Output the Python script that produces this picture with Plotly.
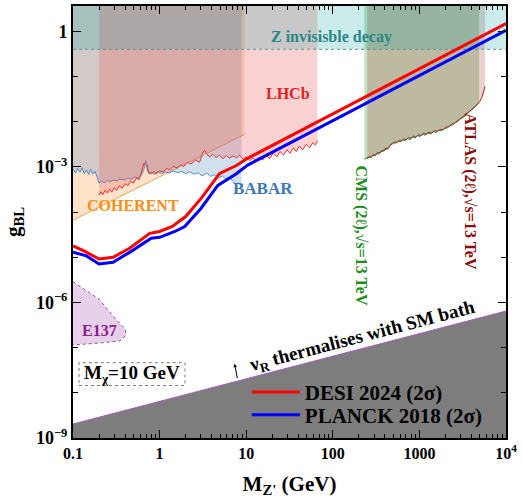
import numpy as np
import plotly.graph_objects as go

FONT = "Liberation Serif"

# ---------------- data ----------------
# DESI 2024 and PLANCK 2018 bounds (log10 g_BL)
desi_m = [0.1, 0.137, 0.2, 0.29, 0.45, 0.77, 1.0, 1.4, 2.0, 3.1, 4.9, 7.7, 10.4, 1e4]
desi_logg = [-4.75, -4.87, -5.04, -5.00, -4.80, -4.47, -4.43, -4.32, -4.10, -3.67, -3.15, -2.97, -2.81, 0.17]
planck_m = [0.1, 0.143, 0.2, 0.29, 0.47, 0.8, 1.0, 1.5, 1.95, 3.0, 4.7, 7.7, 10.4, 1e4]
planck_logg = [-4.89, -4.97, -5.15, -5.11, -4.87, -4.58, -4.56, -4.43, -4.32, -3.92, -3.41, -3.15, -2.96, 0.02]

# BABAR
babar_m = [0.1, 0.107, 0.113, 0.12, 0.127, 0.135, 0.143, 0.152, 0.16, 0.17, 0.18, 0.19, 0.2, 0.215,
           0.23, 0.25, 0.27, 0.29, 0.32, 0.35, 0.39, 0.43, 0.47, 0.52, 0.57, 0.62, 0.66, 0.69, 0.72,
           0.75, 0.8, 0.88, 0.95, 1.05, 1.15, 1.3, 1.45, 1.6, 1.8, 2.0, 2.2, 2.5, 2.8, 3.1, 3.5, 3.9,
           4.3, 4.8, 5.3, 5.9, 6.5, 7.0, 7.6, 8.2, 8.85]
babar_logg = [-3.05, -3.14, -3.03, -3.12, -3.02, -3.15, -3.07, -3.17, -3.05, -3.16, -3.10, -3.22, -3.36, -3.32,
              -3.35, -3.30, -3.33, -3.29, -3.31, -3.27, -3.29, -3.25, -3.27, -3.22, -3.25, -3.18, -3.05, -2.86, -2.95,
              -3.15, -3.12, -3.16, -3.10, -3.15, -3.11, -3.14, -3.09, -3.13, -3.10, -3.15, -3.11, -3.16, -3.13, -3.20, -3.14, -3.21,
              -3.17, -3.25, -3.20, -3.28, -3.24, -3.32, -3.38, -3.36, -3.42]

# LHCb
lhcb_m = [0.2, 0.21, 0.22, 0.235, 0.25, 0.265, 0.28, 0.3, 0.32, 0.34, 0.37, 0.4, 0.43, 0.46, 0.5, 0.54,
          0.58, 0.62, 0.66, 0.7, 0.74, 0.8, 0.86, 0.92, 1.0, 1.1, 1.2, 1.3, 1.45, 1.6, 1.75, 1.9, 2.1, 2.3,
          2.6, 2.9, 3.1, 3.3, 3.5, 3.8, 4.1, 4.5, 4.9, 5.4, 5.9, 6.4, 7.0, 7.7, 8.4, 9.2, 10, 11, 12, 13,
          14, 15.5, 17, 18.6, 20.5, 22.5, 24.5, 27, 29.5, 32, 35, 38, 41, 45, 49, 54, 59, 63, 66.5]
lhcb_logg = [-3.63, -3.55, -3.62, -3.52, -3.58, -3.49, -3.56, -3.46, -3.52, -3.42, -3.47, -3.37, -3.42, -3.32, -3.36, -3.25,
             -3.28, -3.10, -2.92, -2.95, -3.12, -3.15, -3.10, -3.16, -3.08, -3.12, -3.03, -3.07, -2.99, -3.03, -2.95, -2.99, -2.90, -2.94,
             -2.85, -2.90, -2.72, -2.63, -2.72, -2.78, -2.72, -2.80, -2.74, -2.82, -2.75, -2.81, -2.76, -2.80, -2.74, -2.83, -2.78, -2.86, -2.80, -2.88,
             -2.79, -2.85, -2.74, -2.82, -2.70, -2.78, -2.66, -2.74, -2.62, -2.70, -2.58, -2.66, -2.54, -2.62, -2.50, -2.58, -2.46, -2.52, -2.42]

# COHERENT (straight boundary)
coherent_m = [0.1, 9.6]
coherent_logg = [-4.18, -2.28]

# CMS (2l), 13 TeV
cms_m = [231, 245, 260, 275, 290, 305, 320, 340, 360, 380, 400, 420, 445, 470, 500, 530, 560, 600, 640, 680,
         730, 780, 830, 890, 950, 1010, 1080, 1160, 1250, 1350, 1450, 1560, 1680, 1810, 1950, 2100, 2250,
         2420, 2600, 2800, 3000, 3250, 3500, 3800, 4100, 4450, 4890]
cms_logg = [-2.83, -2.80, -2.78, -2.80, -2.74, -2.76, -2.70, -2.72, -2.65, -2.66, -2.60, -2.62, -2.55, -2.50, -2.46, -2.48,
            -2.43, -2.45, -2.40, -2.42, -2.37, -2.40, -2.34, -2.36, -2.31, -2.33, -2.28, -2.30, -2.25, -2.27, -2.22, -2.24,
            -2.19, -2.20, -2.15, -2.14, -2.09, -2.07, -2.02, -1.99, -1.93, -1.90, -1.84, -1.78, -1.72, -1.66, -1.58]

# ATLAS (2l), 13 TeV
atlas_m = [250, 265, 280, 295, 310, 330, 350, 370, 390, 410, 435, 460, 490, 520, 550, 585, 620, 660, 700, 750,
           800, 850, 910, 970, 1040, 1110, 1200, 1290, 1390, 1500, 1620, 1750, 1880, 2030, 2180, 2350, 2520,
           2720, 2920, 3150, 3400, 3700, 4000, 4350, 4700, 5000, 5300, 5550, 5730]
atlas_logg = [-2.82, -2.77, -2.79, -2.72, -2.75, -2.68, -2.70, -2.63, -2.65, -2.58, -2.60, -2.52, -2.49, -2.45, -2.47, -2.41,
              -2.43, -2.38, -2.40, -2.35, -2.37, -2.32, -2.34, -2.29, -2.31, -2.26, -2.28, -2.23, -2.25, -2.20, -2.21, -2.17,
              -2.18, -2.12, -2.11, -2.06, -2.04, -1.99, -1.96, -1.90, -1.86, -1.80, -1.74, -1.68, -1.61, -1.55, -1.45, -1.33, -1.22]

# E137 (closed contour)
e137_m = [0.1, 0.2, 0.29, 0.4, 0.41, 0.35, 0.2, 0.1]
e137_logg = [-5.54, -5.93, -6.30, -6.59, -6.72, -6.85, -6.90, -6.94]

# nu_R thermalisation boundary
therm_m = [0.1, 1e4]
therm_logg = [-8.69, -6.19]

# Z invisible decay
z_m = [0.1, 1e4]
z_g = 0.4

x_tickvals = [0.1, 1, 10, 100, 1000, 1e4]
x_ticktext = ["<b>0.1</b>", "<b>1</b>", "<b>10</b>", "<b>100</b>", "<b>1000</b>", "<b>10<sup>4</sup></b>"]
y_tickvals = [1e-9, 1e-6, 1e-3, 1]
y_ticktext = ["<b>10<sup>\u22129</sup></b>", "<b>10<sup>\u22126</sup></b>", "<b>10<sup>\u22123</sup></b>", "<b>1</b>"]

G_TOP = 10.0
G_BOT = 1e-10


def g(arr):
    return [10 ** v for v in arr]


def above(ms, gs):
    xs = list(ms) + [ms[-1], ms[0]]
    ys = list(gs) + [G_TOP, G_TOP]
    return xs, ys


fig = go.Figure()


def region(xs, ys, color):
    fig.add_trace(go.Scatter(x=xs, y=ys, mode="lines", fill="toself", fillcolor=color,
                             line=dict(width=0, color=color), hoverinfo="skip", showlegend=False))


def edge(xs, ys, color, width=1, dash="solid"):
    fig.add_trace(go.Scatter(x=xs, y=ys, mode="lines", line=dict(width=width, color=color, dash=dash),
                             hoverinfo="skip", showlegend=False))


# thermalisation region
tx = therm_m + [therm_m[-1], therm_m[0]]
ty = g(therm_logg) + [G_BOT, G_BOT]
region(tx, ty, "rgb(125,125,125)")
edge(therm_m, g(therm_logg), "rgb(170,90,190)", 1)

# E137
region(e137_m, g(e137_logg), "rgba(175,100,185,0.3)")
edge(e137_m, g(e137_logg), "rgb(160,70,170)", 1, "dot")

# COHERENT
x, y = above(coherent_m, g(coherent_logg))
region(x, y, "rgba(255,160,80,0.3)")
edge(coherent_m, g(coherent_logg), "rgb(255,160,80)", 1)

# BABAR
x, y = above(babar_m, g(babar_logg))
region(x, y, "rgba(70,130,190,0.25)")
edge(babar_m, g(babar_logg), "rgb(80,140,200)", 1)

# LHCb
x, y = above(lhcb_m, g(lhcb_logg))
region(x, y, "rgba(240,90,90,0.27)")
edge(lhcb_m, g(lhcb_logg), "rgb(230,50,50)", 1)

# CMS
x, y = above(cms_m, g(cms_logg))
region(x, y, "rgba(40,150,40,0.28)")
edge(cms_m, g(cms_logg), "rgb(40,150,40)", 1)

# ATLAS
x, y = above(atlas_m, g(atlas_logg))
region(x, y, "rgba(170,40,40,0.21)")
edge(atlas_m, g(atlas_logg), "rgb(150,40,40)", 1)

# Z invisible decay band
region(z_m + [z_m[1], z_m[0]], [z_g, z_g, G_TOP, G_TOP], "rgba(0,160,160,0.2)")
edge(z_m, [z_g, z_g], "rgba(90,150,150,0.8)", 1.2, "dot")

# DESI / PLANCK
fig.add_trace(go.Scatter(x=desi_m, y=g(desi_logg), mode="lines", name="<b>DESI 2024 (2\u03c3)</b>",
                         line=dict(color="rgb(255,0,0)", width=3), legend="legend"))
fig.add_trace(go.Scatter(x=planck_m, y=g(planck_logg), mode="lines", name="<b>PLANCK 2018 (2\u03c3)</b>",
                         line=dict(color="rgb(0,0,255)", width=3), legend="legend2"))


def label(text, lx, ly, color, size, angle=0):
    fig.add_annotation(x=lx, y=ly, xref="x", yref="y", text="<b>" + text + "</b>", showarrow=False,
                       xanchor="center", yanchor="middle",
                       textangle=angle, font=dict(family=FONT, size=size, color=color))


label("Z invisisble decay", 1.984, -0.12, "rgb(40,135,135)", 16)
label("LHCb", 1.488, -1.37, "rgb(225,30,30)", 16)
label("COHERENT", -0.309, -3.85, "rgb(255,140,20)", 16)
label("BABAR", 1.189, -3.48, "rgb(60,120,180)", 17)
label("E137", -0.689, -6.63, "rgb(140,30,140)", 16)
label("CMS (2\u2113),\u221as=13 TeV", 2.326, -4.52, "rgb(30,140,30)", 16, 90)
label("ATLAS (2\u2113),\u221as=13 TeV", 3.593, -3.55, "rgb(140,10,10)", 16, 90)
label("\u03bd<sub>R</sub> thermalises with SM bath", 2.341, -6.77, "black", 19, -14.7)

# small arrow
fig.add_annotation(x=0.866, y=-7.357, xref="x", yref="y", ax=3, ay=16, text="", showarrow=True,
                   arrowhead=2, arrowsize=0.7, arrowwidth=1, arrowcolor="black")

# M_chi box
fig.add_shape(type="rect", xref="paper", yref="paper", x0=0.0139, x1=0.2587, y0=0.1216, y1=0.1743,
              line=dict(color="rgb(120,120,120)", width=1, dash="dot"), fillcolor="rgba(0,0,0,0)")
fig.add_annotation(x=0.136, y=0.148, xref="paper", yref="paper", text="<b>M<sub>\u03c7</sub>=10 GeV</b>",
                   showarrow=False, xanchor="center", yanchor="middle",
                   font=dict(family=FONT, size=19, color="black"))

x_minor = [m * 10 ** d for d in range(-1, 4) for m in range(2, 10)]
y_minor = [10.0 ** e for e in [-8, -7, -5, -4, -2, -1]]

axis_common = dict(showline=True, linewidth=2, linecolor="black", mirror="allticks", showgrid=False,
                   zeroline=False, ticks="inside", ticklen=8, tickwidth=1.3, tickcolor="black")

leg_common = dict(xanchor="left", yanchor="middle", bgcolor="rgba(0,0,0,0)",
                  font=dict(family=FONT, size=21, color="black"), itemwidth=48)

fig.update_layout(
    width=522, height=498,
    margin=dict(l=73, r=16, t=4, b=58),
    paper_bgcolor="white", plot_bgcolor="white",
    xaxis=dict(type="log", range=[-1, 4], tickmode="array", tickvals=x_tickvals, ticktext=x_ticktext,
               tickfont=dict(family=FONT, size=16, color="black"),
               minor=dict(tickmode="array", tickvals=x_minor, ticks="inside", ticklen=4, tickcolor="black", tickwidth=1),
               title=dict(text="<b>M<sub>Z'</sub> (GeV)</b>", font=dict(family=FONT, size=21, color="black"),
                          standoff=17),
               **axis_common),
    yaxis=dict(type="log", range=[-9, 0.56], tickmode="array", tickvals=y_tickvals, ticktext=y_ticktext,
               tickfont=dict(family=FONT, size=18, color="black"),
               minor=dict(tickmode="array", tickvals=y_minor, ticks="inside", ticklen=5, tickcolor="black", tickwidth=1),
               title=dict(text="<b>g<sub>BL</sub></b>", font=dict(family=FONT, size=21, color="black"),
                          standoff=10),
               **axis_common),
    legend=dict(x=0.4015, y=0.1055, **leg_common),
    legend2=dict(x=0.4015, y=0.0528, **leg_common),
    showlegend=True,
)

fig.write_html("out.html")
